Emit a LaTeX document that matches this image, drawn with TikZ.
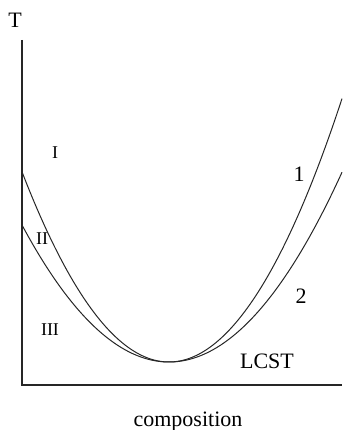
\documentclass[tikz,border=0pt]{standalone}
\usepackage{fontspec}
\setmainfont{Liberation Serif}
\usetikzlibrary{positioning}

\begin{document}
\begin{tikzpicture}[x=1pt,y=-1pt,
  axis/.style={draw=black!85,line width=1.4pt},
  curve/.style={draw=black!85,line width=1pt},
  lbl/.style={anchor=base,inner sep=0pt,font=\fontsize{22}{24}\selectfont},
  region/.style={anchor=base,inner sep=0pt,font=\fontsize{18}{20}\selectfont}]
  \useasboundingbox (0,0) rectangle (342,430);
  % axes
  \coordinate (ytop) at (22,40);
  \coordinate (origin) at (22,385);
  \coordinate (xend) at (342,385);
  \draw[axis] (ytop) -- (origin) -- (xend);
  % binodal (1) and spinodal (2) type curves, common minimum at LCST
  \draw[curve] plot[domain=22:342,samples=120] (\x,{362-0.88*((\x-169)/10)^2});
  \draw[curve] plot[domain=22:342,samples=120] (\x,{362-0.634*((\x-169)/10)^2});
  % labels
  \node[lbl] (tname) at (15,28) {T};
  \node[lbl] (xname) at (188,426) {composition};
  \node[lbl] (one) at (299,182) {1};
  \node[lbl] (two) at (301,303) {2};
  \node[lbl] (lcst) at (267,368) {LCST};
  \node[region] (regI) at (55,159) {I};
  \node[region] (regII) at (42,244) {II};
  \node[region] (regIII) at (50,335) {III};
\end{tikzpicture}
\end{document}
